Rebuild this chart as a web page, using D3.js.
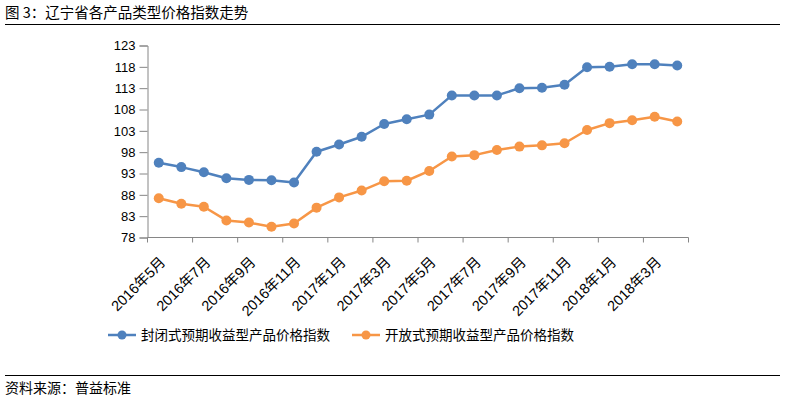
<!DOCTYPE html>
<html>
<head>
<meta charset="utf-8">
<script src="https://cdn.jsdelivr.net/npm/d3@7"></script>
<style>
  body { margin: 0; background: #fff; }
  svg { font-family: "Noto Sans CJK SC", "Liberation Sans", sans-serif; }
  .tickText { font-family: "Liberation Sans", "Noto Sans CJK SC", sans-serif; font-size: 13px; fill: #000; }
</style>
</head>
<body>
<div id="chart"></div>
<script>
"use strict";

let months = [
  "2016年5月", "2016年6月", "2016年7月", "2016年8月", "2016年9月", "2016年10月",
  "2016年11月", "2016年12月", "2017年1月", "2017年2月", "2017年3月", "2017年4月",
  "2017年5月", "2017年6月", "2017年7月", "2017年8月", "2017年9月", "2017年10月",
  "2017年11月", "2017年12月", "2018年1月", "2018年2月", "2018年3月", "2018年4月"
];

let closedIndex = [
  95.5, 94.5, 93.3, 91.9, 91.5, 91.4, 90.9, 98.1, 99.8, 101.6, 104.6, 105.7,
  106.8, 111.3, 111.3, 111.3, 113.0, 113.1, 113.8, 117.9, 118.0, 118.6, 118.6, 118.3
];

let openIndex = [
  87.2, 85.9, 85.2, 82.0, 81.5, 80.5, 81.3, 85.0, 87.4, 89.0, 91.2, 91.3,
  93.6, 97.0, 97.3, 98.5, 99.3, 99.6, 100.1, 103.2, 104.8, 105.5, 106.3, 105.2
];

let yTicks = [78, 83, 88, 93, 98, 103, 108, 113, 118, 123];

let seriesNames = ["封闭式预期收益型产品价格指数", "开放式预期收益型产品价格指数"];
let seriesColors = ["#4f81bd", "#f79646"];

let width = 785;
let height = 400;

let svg = d3.select("#chart").append("svg")
  .attr("width", width)
  .attr("height", height)
  .attr("viewBox", [0, 0, width, height].join(" "));

// header and footer
svg.append("text")
  .attr("x", 5)
  .attr("y", 18)
  .style("font-size", "14.5px")
  .text("图 3：辽宁省各产品类型价格指数走势");

svg.append("line")
  .attr("x1", 5).attr("x2", 780)
  .attr("y1", 24.5).attr("y2", 24.5)
  .attr("stroke", "#000").attr("stroke-width", 1);

svg.append("line")
  .attr("x1", 5).attr("x2", 780)
  .attr("y1", 375.5).attr("y2", 375.5)
  .attr("stroke", "#000").attr("stroke-width", 1);

svg.append("text")
  .attr("x", 5)
  .attr("y", 393)
  .style("font-size", "14px")
  .text("资料来源：普益标准");

// scales
let plot = { left: 147.5, right: 688.5, top: 45.5, bottom: 237.5 };

let x = d3.scaleBand()
  .domain(months)
  .range([plot.left, plot.right]);

let y = d3.scaleLinear()
  .domain([78, 123])
  .range([plot.bottom, plot.top]);

let axisColor = "#868686";

// y axis
let yAxis = svg.append("g")
  .attr("transform", `translate(${plot.left}, 0)`)
  .call(d3.axisLeft(y).tickValues(yTicks).tickSize(8).tickPadding(4));

yAxis.select(".domain").attr("stroke", axisColor);
yAxis.selectAll(".tick line").attr("stroke", axisColor);
yAxis.selectAll(".tick text").attr("class", "tickText");

// x axis: ticks on every second category boundary
let boundaries = months.filter((d, i) => i % 2 === 0).map(d => x(d)).concat([plot.right]);

let xAxis = svg.append("g")
  .attr("transform", `translate(0, ${plot.bottom})`);

xAxis.append("line")
  .attr("x1", plot.left).attr("x2", plot.right)
  .attr("stroke", axisColor);

xAxis.selectAll(".xTick")
  .data(boundaries)
  .enter().append("line")
  .attr("class", "xTick")
  .attr("x1", d => d).attr("x2", d => d)
  .attr("y1", 0).attr("y2", 5)
  .attr("stroke", axisColor);

xAxis.selectAll(".xLabel")
  .data(months.filter((d, i) => i % 2 === 0))
  .enter().append("text")
  .attr("class", "tickText")
  .attr("transform", d => `translate(${x(d) + x.bandwidth() / 2 + 4}, 22) rotate(-45)`)
  .attr("dy", "0.35em")
  .style("text-anchor", "end")
  .style("font-size", "14.5px")
  .text(d => d);

// lines
let line = d3.line()
  .x((d, i) => x(months[i]) + x.bandwidth() / 2)
  .y(d => y(d));

[closedIndex, openIndex].forEach(function(values, k) {
  let g = svg.append("g");

  g.append("path")
    .datum(values)
    .attr("fill", "none")
    .attr("stroke", seriesColors[k])
    .attr("stroke-width", 2.5)
    .attr("stroke-linejoin", "round")
    .attr("d", line);

  g.selectAll("circle")
    .data(values)
    .enter().append("circle")
    .attr("cx", (d, i) => x(months[i]) + x.bandwidth() / 2)
    .attr("cy", d => y(d))
    .attr("r", 5)
    .attr("fill", seriesColors[k]);
});

// legend
let legendX = [108, 352];
let legendY = 335;

seriesNames.forEach(function(name, k) {
  let lg = svg.append("g")
    .attr("transform", `translate(${legendX[k]}, ${legendY})`);

  lg.append("line")
    .attr("x1", 0).attr("x2", 28)
    .attr("stroke", seriesColors[k])
    .attr("stroke-width", 2.5);

  lg.append("circle")
    .attr("cx", 14)
    .attr("r", 4.5)
    .attr("fill", seriesColors[k]);

  lg.append("text")
    .attr("x", 33)
    .attr("dy", "0.35em")
    .style("font-size", "13.5px")
    .text(name);
});
</script>
</body>
</html>
